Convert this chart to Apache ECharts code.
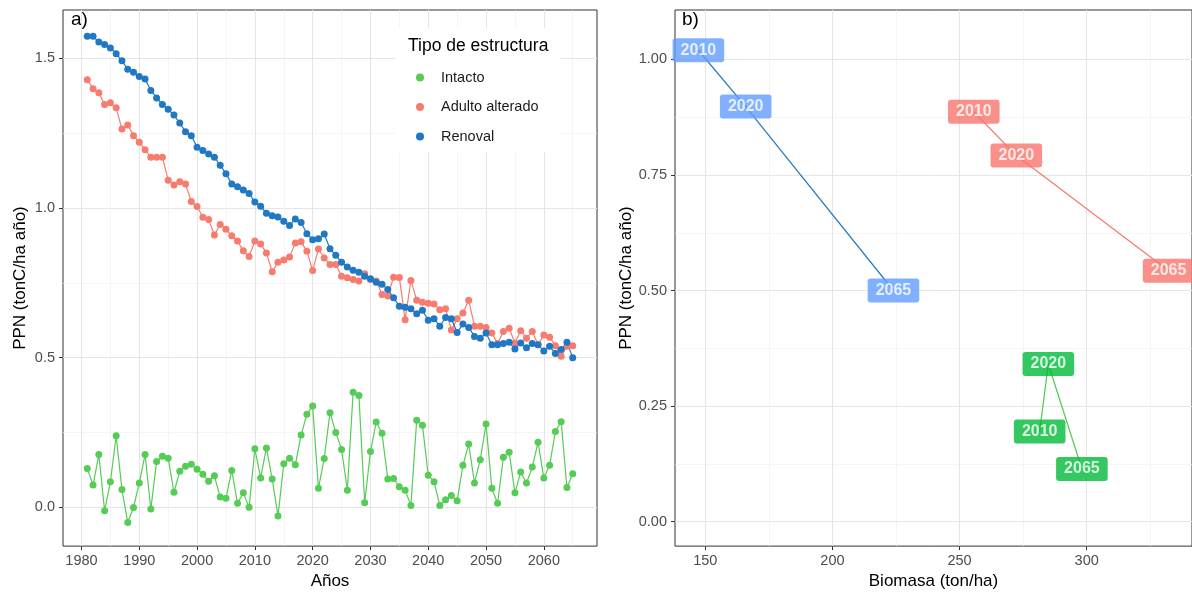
<!DOCTYPE html>
<html>
<head>
<meta charset="utf-8">
<script src="https://cdn.jsdelivr.net/npm/echarts@6/dist/echarts.min.js"></script>
<style>
  html, body { margin: 0; padding: 0; background: #fff; }
  #main { width: 1192px; height: 595px; }
</style>
</head>
<body>
<div id="main"></div>
<script>
// panel a) PPN anual por tipo de estructura
var anios = [1981, 1982, 1983, 1984, 1985, 1986, 1987, 1988, 1989, 1990,
  1991, 1992, 1993, 1994, 1995, 1996, 1997, 1998, 1999, 2000,
  2001, 2002, 2003, 2004, 2005, 2006, 2007, 2008, 2009, 2010,
  2011, 2012, 2013, 2014, 2015, 2016, 2017, 2018, 2019, 2020,
  2021, 2022, 2023, 2024, 2025, 2026, 2027, 2028, 2029, 2030,
  2031, 2032, 2033, 2034, 2035, 2036, 2037, 2038, 2039, 2040,
  2041, 2042, 2043, 2044, 2045, 2046, 2047, 2048, 2049, 2050,
  2051, 2052, 2053, 2054, 2055, 2056, 2057, 2058, 2059, 2060,
  2061, 2062, 2063, 2064, 2065];
var intacto = [0.129, 0.074, 0.176, -0.012, 0.085, 0.239, 0.059, -0.051, -0.001, 0.081,
  0.176, -0.006, 0.153, 0.170, 0.164, 0.050, 0.120, 0.137, 0.144, 0.127,
  0.110, 0.087, 0.105, 0.034, 0.030, 0.123, 0.013, 0.048, 0.000, 0.195,
  0.098, 0.198, 0.094, -0.029, 0.145, 0.164, 0.142, 0.241, 0.311, 0.338,
  0.063, 0.163, 0.316, 0.250, 0.193, 0.057, 0.384, 0.373, 0.015, 0.186,
  0.285, 0.247, 0.094, 0.096, 0.068, 0.057, 0.006, 0.291, 0.274, 0.107,
  0.085, 0.006, 0.025, 0.039, 0.022, 0.140, 0.211, 0.081, 0.159, 0.278,
  0.063, 0.013, 0.167, 0.184, 0.048, 0.118, 0.081, 0.134, 0.217, 0.098,
  0.140, 0.253, 0.286, 0.066, 0.112];
var adultoAlterado = [1.429, 1.399, 1.385, 1.346, 1.352, 1.335, 1.264, 1.278, 1.242, 1.220,
  1.195, 1.170, 1.170, 1.170, 1.093, 1.077, 1.088, 1.080, 1.022, 1.005,
  0.969, 0.962, 0.910, 0.945, 0.929, 0.907, 0.890, 0.857, 0.838, 0.890,
  0.880, 0.850, 0.787, 0.819, 0.826, 0.836, 0.883, 0.887, 0.856, 0.791,
  0.863, 0.833, 0.811, 0.811, 0.772, 0.767, 0.761, 0.756, 0.780, 0.761,
  0.756, 0.711, 0.706, 0.769, 0.768, 0.627, 0.758, 0.692, 0.685, 0.682,
  0.679, 0.660, 0.663, 0.592, 0.630, 0.649, 0.692, 0.605, 0.605, 0.601,
  0.582, 0.547, 0.587, 0.598, 0.549, 0.590, 0.565, 0.587, 0.543, 0.576,
  0.568, 0.540, 0.505, 0.538, 0.540];
var renoval = [1.574, 1.574, 1.555, 1.547, 1.535, 1.516, 1.492, 1.464, 1.454, 1.440,
  1.431, 1.393, 1.368, 1.346, 1.330, 1.311, 1.284, 1.255, 1.242, 1.203,
  1.192, 1.181, 1.170, 1.143, 1.115, 1.080, 1.071, 1.060, 1.049, 1.020,
  1.006, 0.983, 0.974, 0.970, 0.956, 0.942, 0.963, 0.952, 0.914, 0.894,
  0.897, 0.913, 0.864, 0.842, 0.819, 0.803, 0.792, 0.785, 0.772, 0.764,
  0.752, 0.745, 0.728, 0.700, 0.672, 0.668, 0.663, 0.647, 0.658, 0.625,
  0.630, 0.605, 0.634, 0.630, 0.584, 0.612, 0.601, 0.571, 0.565, 0.582,
  0.543, 0.543, 0.547, 0.551, 0.529, 0.549, 0.533, 0.547, 0.543, 0.522,
  0.538, 0.514, 0.527, 0.551, 0.500];
var ticksAnios = [1980, 1990, 2000, 2010, 2020, 2030, 2040, 2050, 2060];
var minorAnios = [1985, 1995, 2005, 2015, 2025, 2035, 2045, 2055, 2065];
var ticksPpnA = [0, 0.5, 1, 1.5];
var minorPpnA = [0.25, 0.75, 1.25];

// panel b) PPN vs biomasa en 2010, 2020 y 2065
var hitos = ['2010', '2020', '2065'];
var biomasaRenoval = [147.3, 165.9, 224.0];
var ppnRenoval = [1.02, 0.898, 0.50];
var biomasaAdulto = [255.6, 272.3, 332.2];
var ppnAdulto = [0.887, 0.792, 0.543];
var biomasaIntacto = [281.5, 284.9, 298.1];
var ppnIntacto = [0.195, 0.341, 0.114];
var ticksBiomasa = [150, 200, 250, 300];
var minorBiomasa = [175, 225, 275, 325];
var ticksPpnB = [0, 0.25, 0.5, 0.75, 1];
var minorPpnB = [0.125, 0.375, 0.625, 0.875];

var font = 'Liberation Sans, Arial, Helvetica, sans-serif';
var colIntacto = '#55cc55', colAdulto = '#f77b6f', colRenoval = '#1f78c4';
var fillIntacto = '#00ba38', fillAdulto = '#f8766d', fillRenoval = '#619cff';

function pares(xs, ys) {
  var out = [];
  for (var i = 0; i < xs.length; i++) out.push([xs[i], ys[i]]);
  return out;
}
function etiquetas(xs, ys) {
  var out = [];
  for (var i = 0; i < xs.length; i++) out.push([xs[i], ys[i], hitos[i]]);
  return out;
}

function ejePrincipal(grid, min, max, ticks, dec, name, gap, margin) {
  return {
    type: 'value', gridIndex: grid, min: min, max: max,
    name: name, nameLocation: 'middle', nameGap: gap,
    nameTextStyle: { fontSize: 17, color: '#000', fontFamily: font },
    axisLine: { show: false, onZero: false },
    axisTick: { show: true, length: 4, lineStyle: { color: '#333', width: 1 }, customValues: ticks },
    axisLabel: {
      customValues: ticks, color: '#4d4d4d', fontSize: 14.5, margin: margin, fontFamily: font,
      formatter: function (v) { return dec == null ? String(v) : v.toFixed(dec); }
    },
    splitLine: { show: true, lineStyle: { color: '#e5e5e5', width: 1 } }
  };
}
function ejeMenor(grid, min, max, ticks) {
  return {
    type: 'value', gridIndex: grid, min: min, max: max,
    axisLine: { show: false, onZero: false },
    axisTick: { show: false, customValues: ticks },
    axisLabel: { show: false },
    splitLine: { show: true, lineStyle: { color: '#f0f0f0', width: 0.7 } }
  };
}

function serieA(name, data, color) {
  return {
    name: name, type: 'line', xAxisIndex: 0, yAxisIndex: 0,
    data: pares(anios, data), symbol: 'circle', symbolSize: 7, showSymbol: true,
    itemStyle: { color: color }, lineStyle: { color: color, width: 1.2 }
  };
}
function lineaB(name, xs, ys, color) {
  return {
    name: name, type: 'line', xAxisIndex: 2, yAxisIndex: 2,
    data: pares(xs, ys), showSymbol: false, symbol: 'none',
    lineStyle: { color: color, width: 1.3 }, z: 3
  };
}
function rotulosB(name, xs, ys, fill) {
  return {
    name: name, type: 'scatter', xAxisIndex: 2, yAxisIndex: 2,
    data: etiquetas(xs, ys), symbolSize: 1, itemStyle: { color: fill }, z: 5,
    label: {
      show: true, position: 'inside', formatter: function (p) { return p.value[2]; },
      color: '#fff', fontWeight: 'bold', fontSize: 16, fontFamily: font,
      backgroundColor: fill, padding: [4, 8, 4, 8], borderRadius: 3
    }
  };
}

var myChart = echarts.init(document.getElementById('main'));
var option = {
  animation: false,
  backgroundColor: '#fff',
  title: [{
    text: 'Tipo de estructura', left: 408, top: 37, padding: 0,
    textStyle: { fontSize: 17.5, fontWeight: 'normal', color: '#000', fontFamily: font }
  }],
  graphic: [
    { type: 'text', left: 71, top: 10, style: { text: 'a)', fontSize: 19, fontFamily: font, fill: '#000' } },
    { type: 'text', left: 682, top: 10, style: { text: 'b)', fontSize: 19, fontFamily: font, fill: '#000' } }
  ],
  legend: {
    data: ['Intacto', 'Adulto alterado', 'Renoval'],
    orient: 'vertical', left: 395, top: 28, padding: [42, 22, 8, 21],
    backgroundColor: '#fff', icon: 'circle', itemWidth: 32, itemHeight: 8, itemGap: 14.5,
    textStyle: { fontSize: 14.5, color: '#1a1a1a', fontFamily: font }
  },
  grid: [
    { left: 63, right: 595, top: 10, bottom: 43, show: true, borderColor: '#333', borderWidth: 1, backgroundColor: 'transparent' },
    { left: 675, right: -9, top: 10, bottom: 43, show: true, borderColor: '#333', borderWidth: 1, backgroundColor: 'transparent' }
  ],
  xAxis: [
    ejePrincipal(0, 1976.8, 2069.2, ticksAnios, null, 'Años', 24, 7),
    ejeMenor(0, 1976.8, 2069.2, minorAnios),
    ejePrincipal(1, 138.1, 341.4, ticksBiomasa, null, 'Biomasa (ton/ha)', 24, 7),
    ejeMenor(1, 138.1, 341.4, minorBiomasa)
  ],
  yAxis: [
    ejePrincipal(0, -0.130, 1.662, ticksPpnA, 1, 'PPN (tonC/ha año)', 34, 8),
    ejeMenor(0, -0.130, 1.662, minorPpnA),
    ejePrincipal(1, -0.053, 1.107, ticksPpnB, 2, 'PPN (tonC/ha año)', 37, 8),
    ejeMenor(1, -0.053, 1.107, minorPpnB)
  ],
  series: [
    serieA('Intacto', intacto, colIntacto),
    serieA('Adulto alterado', adultoAlterado, colAdulto),
    serieA('Renoval', renoval, colRenoval),
    lineaB('b Intacto', biomasaIntacto, ppnIntacto, colIntacto),
    lineaB('b Adulto', biomasaAdulto, ppnAdulto, colAdulto),
    lineaB('b Renoval', biomasaRenoval, ppnRenoval, '#2b7fbf'),
    rotulosB('e Intacto', biomasaIntacto, ppnIntacto, fillIntacto),
    rotulosB('e Adulto', biomasaAdulto, ppnAdulto, fillAdulto),
    rotulosB('e Renoval', biomasaRenoval, ppnRenoval, fillRenoval)
  ]
};
myChart.setOption(option);
window.onresize = myChart.resize;
</script>
</body>
</html>
